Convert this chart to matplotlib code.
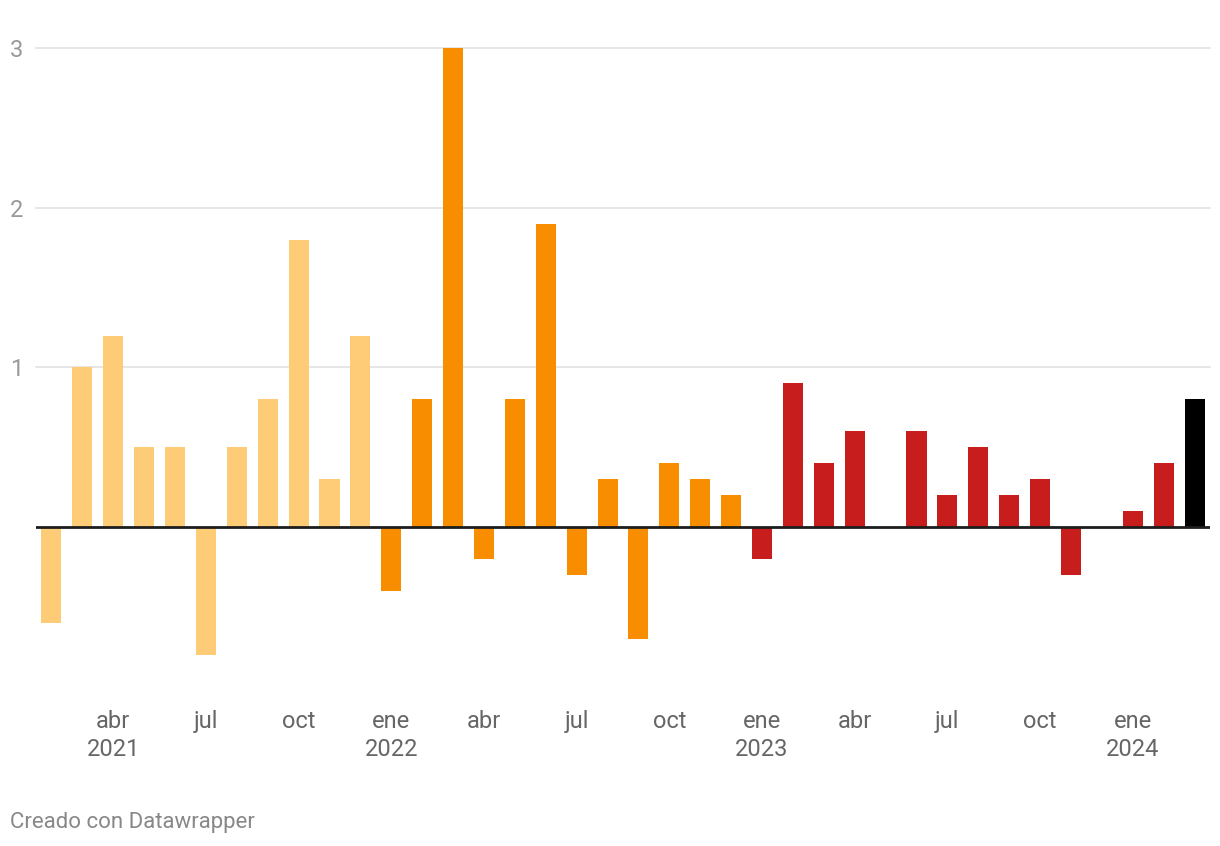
import numpy as np
import matplotlib
matplotlib.use("Agg")
from matplotlib import pyplot as plt

plt.rcParams['font.family'] = ['Roboto', 'DejaVu Sans']

# monthly values, feb 2021 .. mar 2024
months = ['feb', 'mar', 'abr', 'may', 'jun', 'jul', 'ago', 'sep', 'oct', 'nov', 'dic',
          'ene', 'feb', 'mar', 'abr', 'may', 'jun', 'jul', 'ago', 'sep', 'oct', 'nov', 'dic',
          'ene', 'feb', 'mar', 'abr', 'may', 'jun', 'jul', 'ago', 'sep', 'oct', 'nov', 'dic',
          'ene', 'feb', 'mar']
years = [2021] * 11 + [2022] * 12 + [2023] * 12 + [2024] * 3
values = [-0.6, 1.0, 1.2, 0.5, 0.5, -0.8, 0.5, 0.8, 1.8, 0.3, 1.2,
          -0.4, 0.8, 3.0, -0.2, 0.8, 1.9, -0.3, 0.3, -0.7, 0.4, 0.3, 0.2,
          -0.2, 0.9, 0.4, 0.6, 0.0, 0.6, 0.2, 0.5, 0.2, 0.3, -0.3, 0.0,
          0.1, 0.4, 0.8]
year_colors = {2021: '#fecb76', 2022: '#f98d00', 2023: '#c71e1d', 2024: '#c71e1d'}
last_color = '#000000'

tick_names = ['abr', 'jul', 'oct', 'ene']

colors = [year_colors[y] for y in years]
colors[-1] = last_color

fig = plt.figure(figsize=(12.2, 8.46), dpi=100)
ax = fig.add_axes([36/1220, 1 - 671/846, (1210-36)/1220, (671-48)/846])

x = np.arange(len(values))
ax.bar(x, values, width=0.65, color=colors, zorder=2)

ax.set_xlim(-0.5, len(values) - 0.5)
ax.set_ylim(-0.9, 3.0)

# grid
for g in [1, 2, 3]:
    ax.axhline(g, color='#e2e2e2', lw=1.2, zorder=1, clip_on=False)
ax.axhline(0, color='#1d1d1d', lw=2, zorder=3)

ax.set_yticks([1, 2, 3])
ax.set_yticklabels(['1', '2', '3'])
ax.tick_params(axis='y', length=0, pad=9, labelsize=17, labelcolor='#999999')

xt, xl = [], []
for i, (m, y) in enumerate(zip(months, years)):
    if m in tick_names:
        xt.append(i)
        xl.append(m + '\n' + str(y) if m == 'ene' or (y == 2021 and m == 'abr') else m)
ax.set_xticks(xt)
ax.set_xticklabels(xl, linespacing=1.3)
ax.tick_params(axis='x', length=0, pad=28, labelsize=17, labelcolor='#666666')
for lab in ax.get_xticklabels():
    lab.set_verticalalignment('top')

for s in ax.spines.values():
    s.set_visible(False)

fig.text(10/1220, 1 - 822/846, 'Creado con Datawrapper', fontsize=16,
         color='#888888', va='center', ha='left')

fig.savefig('out.png', dpi=100, facecolor='white')
